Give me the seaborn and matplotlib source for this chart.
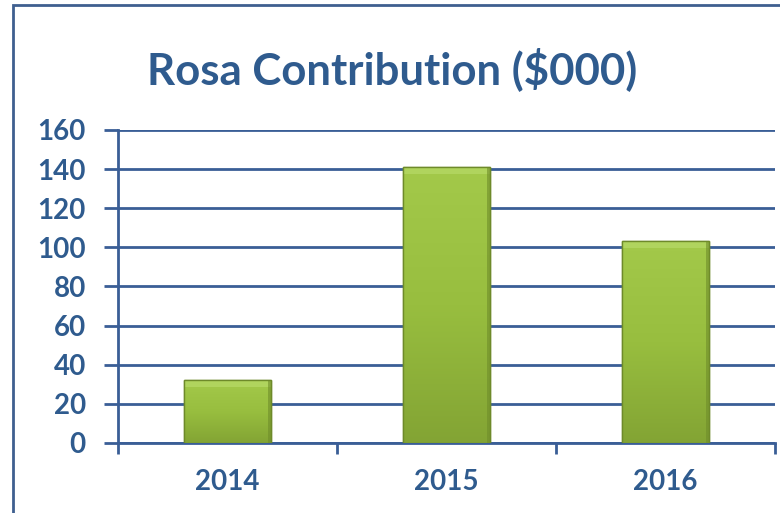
import matplotlib
matplotlib.use("Agg")
import matplotlib.pyplot as plt
import seaborn as sns
import numpy as np
import pandas as pd
from matplotlib.patches import Rectangle
from matplotlib.colors import LinearSegmentedColormap

years = ["2014", "2015", "2016"]
values = [32, 141, 103]
yticks = [0, 20, 40, 60, 80, 100, 120, 140, 160]
title = "Rosa Contribution ($000)"

sns.set_theme(style="white")
plt.rcParams['font.family'] = ['Lato', 'DejaVu Sans']

BLUE = "#2F5B8E"
LINE = "#3A5E96"

fig = plt.figure(figsize=(7.8, 5.13), dpi=100)
ax = fig.add_axes([0.151, 0.1365, 0.9936 - 0.151, 0.7466 - 0.1365])

df = pd.DataFrame({"year": years, "value": values})
sns.barplot(data=df, x="year", y="value", width=0.4, color="#93B83A",
            edgecolor="#6E8A2A", linewidth=1.0, ax=ax, zorder=3)

# gradient fill on bars
cmap = LinearSegmentedColormap.from_list("g", ["#83A434", "#98BE3F", "#A3C94A"])
grad = np.linspace(0, 1, 256).reshape(-1, 1)
for p in ax.patches:
    x0, y0 = p.get_x(), p.get_y()
    w, h = p.get_width(), p.get_height()
    im = ax.imshow(grad, extent=[x0, x0 + w, y0, y0 + h], origin="lower",
                   cmap=cmap, aspect="auto", zorder=3.5)
    im.set_clip_path(p)
    # bevel highlight at top
    ax.add_patch(Rectangle((x0, y0 + h - 3.5), w, 3.5, facecolor="#B2D661",
                           edgecolor="none", zorder=3.6, alpha=0.9))
    # darker right side
    ax.add_patch(Rectangle((x0 + w * 0.96, y0), w * 0.04, h, facecolor="#6F8D2A",
                           edgecolor="none", zorder=3.6, alpha=0.6))
    ax.add_patch(Rectangle((x0, y0), w, h, facecolor="none",
                           edgecolor="#6E8A2A", linewidth=1.0, zorder=3.7))

ax.set_xlim(-0.5, 2.5)
ax.set_ylim(0, 160)
ax.set_yticks(yticks)
ax.set_yticklabels([str(v) for v in yticks])
ax.yaxis.grid(True, color=LINE, linewidth=2, zorder=0)
ax.set_axisbelow(True)

ax.set_xticks([-0.5, 0.5, 1.5, 2.5])
ax.set_xticklabels([])
ax.set_xticks([0, 1, 2], minor=True)
ax.set_xticklabels(years, minor=True)
ax.tick_params(axis="x", which="major", direction="out", length=8, width=2, color=LINE, bottom=True)
ax.tick_params(axis="x", which="minor", length=0, pad=19, labelsize=20, labelcolor=BLUE)
ax.tick_params(axis="y", direction="out", length=10, width=2, color=LINE, left=True,
               labelsize=20, labelcolor=BLUE, pad=13)
for lab in ax.get_xticklabels(minor=True) + ax.get_yticklabels():
    lab.set_fontweight("bold")

ax.set_xlabel("")
ax.set_ylabel("")
for s in ["top", "right"]:
    ax.spines[s].set_visible(False)
ax.spines["left"].set_color(LINE)
ax.spines["left"].set_linewidth(2)
ax.spines["bottom"].set_color(LINE)
ax.spines["bottom"].set_linewidth(2)

fig.text(0.503, 0.865, title, ha="center", va="center", fontsize=31.5,
         fontweight="bold", color=BLUE)

# figure border (left & top visible)
fig.patches.append(Rectangle((13 / 780, -0.05), 1.1, 1 - 5 / 513 + 0.05,
                             transform=fig.transFigure, fill=False,
                             edgecolor="#3F5F8F", linewidth=2))

fig.savefig("out.png", dpi=100)
